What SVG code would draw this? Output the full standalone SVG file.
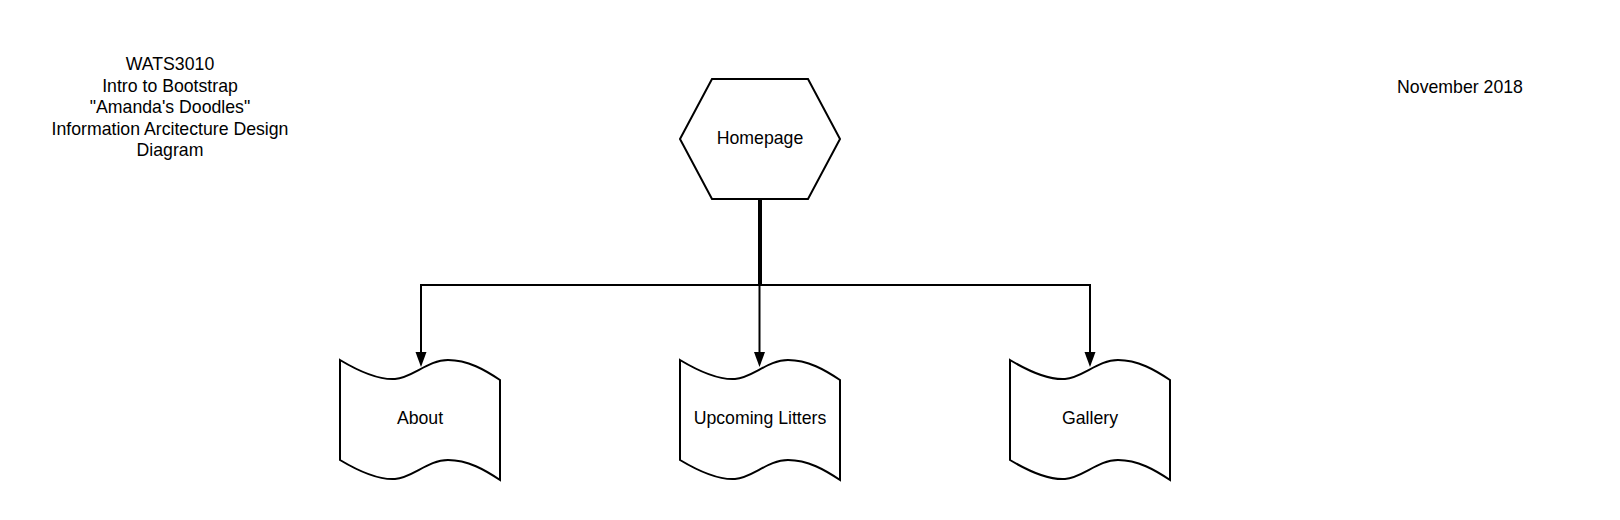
<svg xmlns="http://www.w3.org/2000/svg" width="1620" height="520" viewBox="0 0 1620 520">
<style>
.shape{fill:#ffffff;stroke:#000000;stroke-width:2;stroke-linejoin:miter}
.conn{fill:none;stroke:#000000;stroke-width:2}
text{font-family:"Liberation Sans",Arial,sans-serif;font-size:17.7px;fill:#000000;text-anchor:middle}
</style>
<defs>
<marker id="arrow" markerUnits="userSpaceOnUse" markerWidth="16" markerHeight="12" refX="0" refY="6" orient="auto">
<path d="M0,0.5 L15,6 L0,11.5 Z" fill="#000000"/>
</marker>
<path id="tape" d="M0,0 C20,12 38,20 55,19 C72,18 88,0 108,0 C128,0 145,10 160,20 L160,120 C145,110 128,100 108,100 C88,100 72,118 55,119 C38,120 20,112 0,100 Z"/>
</defs>
<rect width="1620" height="520" fill="#ffffff"/>
<g id="title">
<text x="170" y="70">WATS3010</text>
<text x="170" y="91.5">Intro to Bootstrap</text>
<text x="170" y="113">"Amanda's Doodles"</text>
<text x="170" y="134.5">Information Arcitecture Design</text>
<text x="170" y="156">Diagram</text>
</g>
<g id="date">
<text x="1460" y="93">November 2018</text>
</g>
<g id="connectors">
<path class="conn" d="M759,200 V285 H421 V352" marker-end="url(#arrow)"/>
<path class="conn" d="M761,200 V285 H1090 V352" marker-end="url(#arrow)"/>
<path class="conn" d="M759.5,200 V352" marker-end="url(#arrow)"/>
</g>
<g id="homepage">
<polygon class="shape" points="680,139 712,79 808,79 840,139 808,199 712,199"/>
<text x="760" y="143.5">Homepage</text>
</g>
<g id="about">
<use href="#tape" class="shape" x="340" y="360"/>
<text x="420" y="423.5">About</text>
</g>
<g id="upcoming">
<use href="#tape" class="shape" x="680" y="360"/>
<text x="760" y="423.5">Upcoming Litters</text>
</g>
<g id="gallery">
<use href="#tape" class="shape" x="1010" y="360"/>
<text x="1090" y="423.5">Gallery</text>
</g>
</svg>
